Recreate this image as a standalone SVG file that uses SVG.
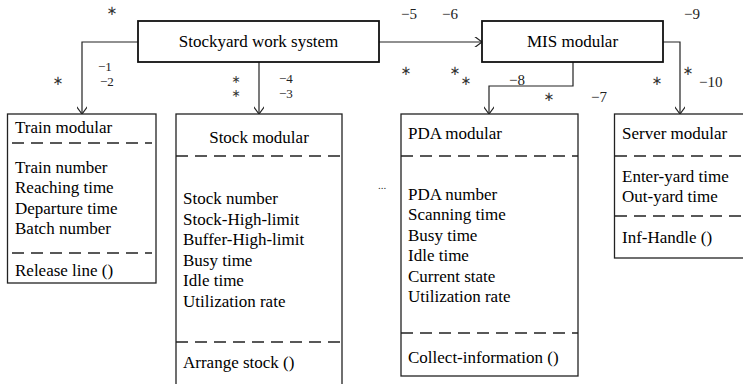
<svg xmlns="http://www.w3.org/2000/svg" width="743" height="384" viewBox="0 0 743 384">
<defs>
<marker id="arr" markerWidth="14" markerHeight="10" refX="9" refY="5" orient="auto" markerUnits="userSpaceOnUse">
<path d="M1,-1 L9,5 L1,11" fill="none" stroke="#222" stroke-width="1.2"/>
</marker>
<style>
.box{fill:#fff;stroke:#222;stroke-width:1.3}
.top{fill:#fff;stroke:#111;stroke-width:1.8}
.dash{stroke:#222;stroke-width:1.5;stroke-dasharray:12 7;fill:none}
.t{font-family:"Liberation Serif","Times New Roman",serif;font-size:17px;fill:#000}
.c{text-anchor:middle}
.n{font-family:"Liberation Serif","Times New Roman",serif;font-size:15px;fill:#222}
.ns{font-family:"Liberation Serif","Times New Roman",serif;font-size:13px;fill:#222}
.s{font-family:"DejaVu Sans",sans-serif;font-size:13px;fill:#333;text-anchor:middle;dominant-baseline:central}
.ss{font-family:"DejaVu Sans",sans-serif;font-size:11px;fill:#333;text-anchor:middle;dominant-baseline:central}
.con{fill:none;stroke:#222;stroke-width:1.2}
</style>
</defs>
<rect width="743" height="384" fill="#fff"/>

<g id="connectors">
<path class="con" d="M138,42 H82 V114" marker-end="url(#arr)"/>
<path class="con" d="M259,62 V114" marker-end="url(#arr)"/>
<path class="con" d="M379,42 H482" marker-end="url(#arr)"/>
<path class="con" d="M573,62 V86 H489 V114" marker-end="url(#arr)"/>
<path class="con" d="M663,42 H680 V114" marker-end="url(#arr)"/>
</g>

<g id="stockyard">
<rect class="top" x="138" y="21" width="241" height="41"/>
<text class="t c" x="258.5" y="47">Stockyard work system</text>
</g>

<g id="mis">
<rect class="top" x="482" y="21" width="181" height="41"/>
<text class="t c" x="572.5" y="47">MIS modular</text>
</g>

<g id="train">
<rect class="box" x="7.5" y="114" width="148.5" height="169"/>
<text class="t" x="15" y="133">Train modular</text>
<line class="dash" x1="12" y1="143" x2="152" y2="143"/>
<text class="t" x="15" y="172.5">Train number</text>
<text class="t" x="15" y="193">Reaching time</text>
<text class="t" x="15" y="213.5">Departure time</text>
<text class="t" x="15" y="234">Batch number</text>
<line class="dash" x1="12" y1="253" x2="152" y2="253"/>
<text class="t" x="15" y="276">Release line ()</text>
</g>

<g id="stock">
<rect class="box" x="176" y="114" width="166" height="280"/>
<text class="t c" x="259" y="143">Stock modular</text>
<line class="dash" x1="176" y1="156" x2="342" y2="156"/>
<text class="t" x="183" y="204">Stock number</text>
<text class="t" x="183" y="224.5">Stock-High-limit</text>
<text class="t" x="183" y="245">Buffer-High-limit</text>
<text class="t" x="183" y="265.5">Busy time</text>
<text class="t" x="183" y="286">Idle time</text>
<text class="t" x="183" y="306.5">Utilization rate</text>
<line class="dash" x1="176" y1="342" x2="342" y2="342"/>
<text class="t" x="183" y="368">Arrange stock ()</text>
</g>

<g id="pda">
<rect class="box" x="401" y="114" width="177" height="262"/>
<text class="t" x="408" y="139">PDA modular</text>
<line class="dash" x1="401" y1="156" x2="578" y2="156"/>
<text class="t" x="408" y="199.5">PDA number</text>
<text class="t" x="408" y="220">Scanning time</text>
<text class="t" x="408" y="240.5">Busy time</text>
<text class="t" x="408" y="261">Idle time</text>
<text class="t" x="408" y="281.5">Current state</text>
<text class="t" x="408" y="302">Utilization rate</text>
<line class="dash" x1="401" y1="333" x2="578" y2="333"/>
<text class="t" x="408" y="363">Collect-information ()</text>
</g>

<g id="server">
<rect class="box" x="614.5" y="114" width="140" height="144"/>
<text class="t" x="622" y="139">Server modular</text>
<line class="dash" x1="615" y1="156" x2="743" y2="156"/>
<text class="t" x="622" y="182">Enter-yard time</text>
<text class="t" x="622" y="202">Out-yard time</text>
<line class="dash" x1="615" y1="216" x2="743" y2="216"/>
<text class="t" x="622" y="243">Inf-Handle ()</text>
</g>

<g id="ellipsis">
<text x="382" y="189" font-family="Liberation Serif,serif" font-size="11" fill="#333" text-anchor="middle">...</text>
</g>

<g id="labels">
<text class="s" x="112" y="10">∗</text>
<text class="s" x="58" y="80">∗</text>
<text class="ns" x="98" y="71">−1</text>
<text class="ns" x="100" y="86">−2</text>
<text class="ss" x="236" y="79">∗</text>
<text class="ss" x="236" y="93">∗</text>
<text class="ns" x="279" y="83" fill="#777">−4</text>
<text class="ns" x="279" y="98">−3</text>
<text class="n" x="401" y="18.5">−5</text>
<text class="n" x="442" y="18.5">−6</text>
<text class="n" x="684" y="18.5">−9</text>
<text class="s" x="406" y="70">∗</text>
<text class="s" x="455" y="70">∗</text>
<text class="s" x="466" y="80">∗</text>
<text class="n" x="509" y="85">−8</text>
<text class="s" x="549" y="96">∗</text>
<text class="n" x="591" y="102">−7</text>
<text class="s" x="657" y="80">∗</text>
<text class="s" x="688" y="70">∗</text>
<text class="n" x="699" y="87">−10</text>
</g>
</svg>
